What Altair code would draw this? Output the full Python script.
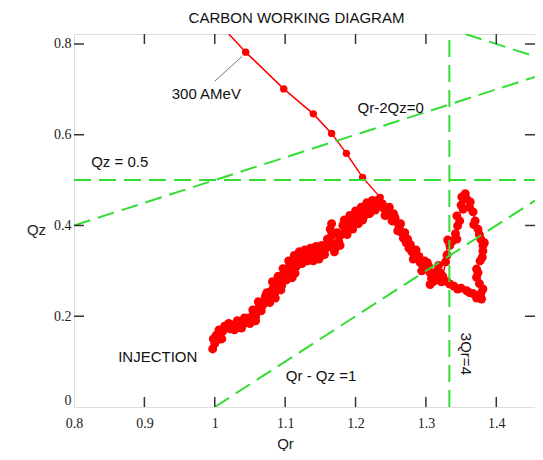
import altair as alt
import pandas as pd

# ---------------- data ----------------
# working line toward 300 AMeV (Qr, Qz) and which samples carry a marker
W_QR = [1.020, 1.044, 1.098, 1.140, 1.166, 1.187, 1.210, 1.235, 1.245]
W_QZ = [0.822, 0.782, 0.701, 0.646, 0.603, 0.559, 0.506, 0.462, 0.440]
W_MARK = [0, 1, 1, 1, 1, 1, 1, 1, 0]

B_QR = [0.997, 1.000, 0.998, 1.004, 1.008, 1.012, 1.006, 1.016, 1.022, 1.026,
        1.030, 1.034, 1.040, 1.045, 1.048, 1.052, 1.055, 1.058, 1.060, 1.064,
        1.066, 1.070, 1.072, 1.076, 1.080, 1.083, 1.085, 1.088, 1.092, 1.095,
        1.098, 1.100, 1.104, 1.106, 1.108, 1.112, 1.110, 1.114, 1.118, 1.122,
        1.126, 1.130, 1.134, 1.138, 1.142, 1.146, 1.150, 1.154, 1.158, 1.160,
        1.164, 1.166, 1.168, 1.172, 1.176, 1.180, 1.182, 1.186, 1.190, 1.194,
        1.198, 1.202, 1.206, 1.210, 1.214, 1.218, 1.222, 1.226, 1.230, 1.234,
        1.240, 1.245, 1.250, 1.254, 1.258, 1.262, 1.266, 1.268, 1.272, 1.276,
        1.280, 1.284, 1.288, 1.292, 1.296, 1.300, 1.302, 1.306, 1.308, 1.310,
        1.312, 1.316, 1.320, 1.324, 1.328, 1.331, 1.338, 1.344, 1.345, 1.344,
        1.353, 1.351, 1.358, 1.363, 1.367, 1.370, 1.374, 1.378, 1.381, 1.381,
        1.377, 1.372, 1.372, 1.376, 1.381, 1.379, 1.373, 1.367, 1.358, 1.345,
        1.334, 1.330]
B_QZ = [0.128, 0.140, 0.150, 0.148, 0.160, 0.168, 0.170, 0.175, 0.172, 0.180,
        0.176, 0.184, 0.182, 0.188, 0.196, 0.192, 0.205, 0.200, 0.215, 0.222,
        0.212, 0.232, 0.244, 0.238, 0.255, 0.262, 0.250, 0.272, 0.280, 0.268,
        0.290, 0.300, 0.292, 0.310, 0.320, 0.305, 0.285, 0.295, 0.318, 0.330,
        0.322, 0.332, 0.340, 0.328, 0.336, 0.344, 0.332, 0.342, 0.350, 0.370,
        0.392, 0.378, 0.360, 0.352, 0.366, 0.380, 0.400, 0.394, 0.410, 0.402,
        0.416, 0.420, 0.428, 0.412, 0.432, 0.440, 0.436, 0.446, 0.450, 0.444,
        0.438, 0.430, 0.420, 0.426, 0.408, 0.396, 0.384, 0.372, 0.362, 0.350,
        0.342, 0.336, 0.326, 0.318, 0.312, 0.304, 0.318, 0.296, 0.284, 0.276,
        0.290, 0.300, 0.296, 0.288, 0.320, 0.368, 0.366, 0.370, 0.399, 0.421,
        0.436, 0.463, 0.458, 0.452, 0.430, 0.410, 0.392, 0.370, 0.356, 0.344,
        0.322, 0.304, 0.286, 0.272, 0.260, 0.238, 0.245, 0.250, 0.256, 0.260,
        0.271, 0.276]

# further samples of the same trajectory that widen the band
E_QR = [1.002, 1.010, 1.014, 1.020, 1.028, 1.032, 1.038, 1.042, 1.050, 1.054,
        1.058, 1.062, 1.068, 1.074, 1.078, 1.082, 1.086, 1.090, 1.094, 1.097,
        1.102, 1.105, 1.109, 1.113, 1.116, 1.120, 1.124, 1.128, 1.132, 1.136,
        1.140, 1.144, 1.148, 1.152, 1.156, 1.162, 1.166, 1.170, 1.174, 1.178,
        1.184, 1.188, 1.192, 1.196, 1.200, 1.204, 1.208, 1.212, 1.216, 1.220,
        1.224, 1.228, 1.232, 1.238, 1.242, 1.248, 1.252, 1.256, 1.260, 1.264,
        1.270, 1.274, 1.278, 1.282, 1.286, 1.290, 1.294, 1.298, 1.304, 1.306,
        1.314, 1.318, 1.322, 1.330, 1.334, 1.342, 1.348, 1.350, 1.356, 1.362,
        1.368, 1.376, 1.383, 1.380, 1.374, 1.378, 1.372, 1.362, 1.350, 1.340]
E_QZ = [0.158, 0.150, 0.178, 0.184, 0.170, 0.190, 0.174, 0.196, 0.184, 0.214,
        0.190, 0.232, 0.224, 0.252, 0.230, 0.276, 0.240, 0.288, 0.258, 0.305,
        0.280, 0.322, 0.296, 0.334, 0.310, 0.342, 0.316, 0.346, 0.322, 0.350,
        0.322, 0.354, 0.326, 0.356, 0.336, 0.354, 0.404, 0.342, 0.384, 0.356,
        0.412, 0.380, 0.422, 0.392, 0.432, 0.404, 0.440, 0.420, 0.450, 0.426,
        0.455, 0.434, 0.456, 0.448, 0.422, 0.440, 0.410, 0.418, 0.388, 0.404,
        0.384, 0.370, 0.358, 0.326, 0.346, 0.332, 0.300, 0.322, 0.310, 0.270,
        0.280, 0.312, 0.276, 0.335, 0.356, 0.382, 0.410, 0.445, 0.470, 0.440,
        0.402, 0.380, 0.362, 0.330, 0.296, 0.250, 0.240, 0.252, 0.262, 0.266]

# resonance lines: endpoints (Qr, Qz)
RES_ID = ["Qz=0.5", "Qr-2Qz=0", "Qr-Qz=1", "3Qr=4", "Qr+2Qz=3"]
RES_QR = [[0.80, 1.455], [0.80, 1.455], [1.00, 1.455], [4 / 3, 4 / 3], [1.356, 1.455]]
RES_QZ = [[0.50, 0.50], [0.40, 0.7275], [0.00, 0.455], [0.00, 0.822], [0.822, 0.7725]]

# annotations (text, Qr, Qz, angle)
ANN_TEXT = ["300 AMeV", "Qr-2Qz=0", "Qz = 0.5", "INJECTION", "Qr - Qz =1", "3Qr=4"]
ANN_QR = [0.988, 1.250, 0.865, 0.919, 1.151, 1.357]
ANN_QZ = [0.690, 0.659, 0.540, 0.110, 0.068, 0.117]
ANN_ANGLE = [0, 0, 0, 0, 0, 90]

LEADER_QR = [1.000, 1.039]
LEADER_QZ = [0.718, 0.773]

X_TICKS = [0.8, 0.9, 1.0, 1.1, 1.2, 1.3, 1.4]
Y_TICKS = [0.0, 0.2, 0.4, 0.6, 0.8]
X_DOMAIN = [0.8, 1.455]
Y_DOMAIN = [0.0, 0.822]

# ---------------- tables ----------------
work = pd.DataFrame({"qr": W_QR, "qz": W_QZ, "mark": W_MARK})
blob = pd.DataFrame({"qr": B_QR, "qz": B_QZ, "order": range(len(B_QR))})
extra = pd.DataFrame({"qr": E_QR, "qz": E_QZ})
res_rows = []
for rid, xs_, ys_ in zip(RES_ID, RES_QR, RES_QZ):
    for k, (a, b) in enumerate(zip(xs_, ys_)):
        res_rows.append({"id": rid, "qr": a, "qz": b, "k": k})
res = pd.DataFrame(res_rows)
ann = pd.DataFrame({"t": ANN_TEXT, "qr": ANN_QR, "qz": ANN_QZ, "angle": ANN_ANGLE})
leader = pd.DataFrame({"qr": LEADER_QR, "qz": LEADER_QZ})
xt = pd.DataFrame({"v": X_TICKS[1:]})
yt = pd.DataFrame({"v": Y_TICKS[1:]})

W, H = 461, 373
RED = "#ff0000"
GREEN = "#33dd33"

xs = alt.Scale(domain=X_DOMAIN, nice=False, zero=False)
ys = alt.Scale(domain=Y_DOMAIN, nice=False, zero=False)

xaxis = alt.Axis(values=X_TICKS, format=".1~f", title="Qr", ticks=False, domain=False,
                 grid=False, labelPadding=9, labelFlush=False, labelFont="Liberation Serif",
                 labelFontSize=14, labelColor="#222", titleFont="Liberation Sans",
                 titleFontSize=15, titleFontWeight="normal", titleColor="#222",
                 titleX=211, titleY=36, titleBaseline="middle")
yaxis = alt.Axis(values=Y_TICKS, format=".1~f", title="Qz", ticks=False, domain=False,
                 grid=False, labelPadding=3, labelFont="Liberation Serif", labelFontSize=14,
                 labelColor="#222", labelFlush=True, titleFont="Liberation Sans",
                 titleFontSize=15, titleFontWeight="normal", titleColor="#222",
                 titleAngle=0, titleX=-38, titleY=195, titleAlign="center",
                 titleBaseline="middle")

X = alt.X("qr:Q", scale=xs, axis=xaxis)
Y = alt.Y("qz:Q", scale=ys, axis=yaxis)

blob_line = alt.Chart(blob).mark_line(color=RED, strokeWidth=1.5).encode(
    x=X, y=Y, order="order:Q")
blob_pts = alt.Chart(blob).mark_circle(color=RED, opacity=1, size=80).encode(x=X, y=Y)
extra_pts = alt.Chart(extra).mark_circle(color=RED, opacity=1, size=80).encode(x=X, y=Y)

work_line = alt.Chart(work).mark_line(color=RED, strokeWidth=1.5, clip=True).encode(x=X, y=Y)
work_pts = alt.Chart(work).transform_filter("datum.mark == 1").mark_circle(
    color=RED, opacity=1, size=55).encode(x=X, y=Y)

res_lines = alt.Chart(res).mark_line(color=GREEN, strokeWidth=2, strokeDash=[17, 8],
                                     clip=True).encode(x=X, y=Y, detail="id:N", order="k:Q")

lead = alt.Chart(leader).mark_line(color="#555", strokeWidth=0.8).encode(x=X, y=Y)

texts = alt.Chart(ann).mark_text(font="Liberation Sans", fontSize=15, color="#111",
                                 align="center", baseline="middle").encode(
    x=X, y=Y, text="t:N", angle=alt.Angle("angle:Q", scale=None))

tick_style = dict(color="#333", strokeWidth=1.5)
xt_bottom = alt.Chart(xt).mark_rule(**tick_style).encode(
    x=alt.X("v:Q", scale=xs), y=alt.value(H), y2=alt.value(H - 10))
xt_top = alt.Chart(xt).mark_rule(**tick_style).encode(
    x=alt.X("v:Q", scale=xs), y=alt.value(0), y2=alt.value(10))
yt_left = alt.Chart(yt).mark_rule(**tick_style).encode(
    y=alt.Y("v:Q", scale=ys), x=alt.value(0), x2=alt.value(10))
yt_right = alt.Chart(yt).mark_rule(**tick_style).encode(
    y=alt.Y("v:Q", scale=ys), x=alt.value(W), x2=alt.value(W - 10))

chart = alt.layer(
    work_line, work_pts, blob_line, blob_pts, extra_pts, res_lines, lead, texts,
    xt_bottom, xt_top, yt_left, yt_right
).properties(
    width=W, height=H,
    title=alt.TitleParams("CARBON WORKING DIAGRAM", font="Liberation Sans", fontSize=15,
                          fontWeight="normal", color="#111", anchor="middle", dx=-8,
                          offset=7),
    autosize=alt.AutoSizeParams(type="none"),
    padding={"left": 66, "top": 26, "right": 0, "bottom": 44},
).configure_view(stroke="#333", strokeWidth=1.5).configure(background="white")

chart.save("out.html", embed_options={"renderer": "svg", "actions": False})
